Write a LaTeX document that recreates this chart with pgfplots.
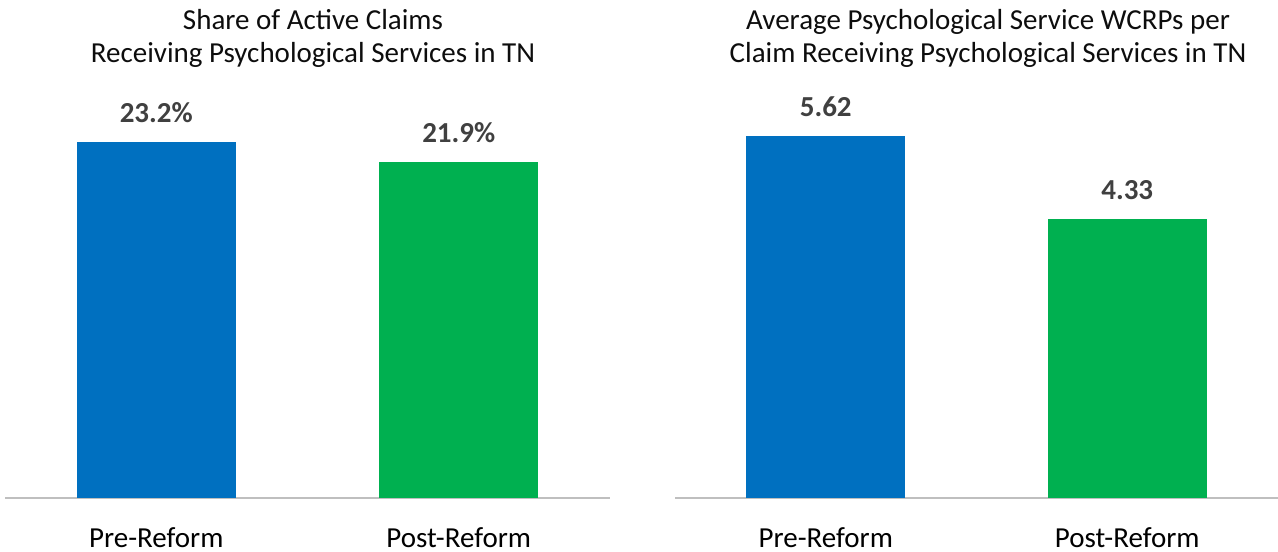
\documentclass[border=0pt]{standalone}
\usepackage{fontspec}
\setmainfont{Carlito}
\usepackage{pgfplots}
\pgfplotsset{compat=1.18}
\definecolor{barblue}{HTML}{0070C0}
\definecolor{bargreen}{HTML}{00B050}
\definecolor{axgray}{HTML}{BFBFBF}
\definecolor{valgray}{HTML}{404040}
\definecolor{titlecol}{HTML}{0D0D0D}
\begin{document}
\begin{tikzpicture}
\path[use as bounding box] (0bp,0bp) rectangle (1278bp,552bp);
\pgfplotsset{
  panel/.style={
    scale only axis, width=605bp, height=460bp,
    ymin=0, xmin=-0.5, xmax=1.5,
    ybar, bar width=159bp,
    axis x line=bottom, axis y line=none,
    x axis line style={-, draw=axgray, line width=2.8bp},
    xtick={0,1}, xticklabels={Pre-Reform,Post-Reform},
    major tick length=0pt, xtick style={draw=none},
    ytick=\empty,
    xticklabel style={font=\fontsize{29bp}{34bp}\selectfont, text=black, anchor=base, yshift=-49bp},
    nodes near coords style={font=\bfseries\fontsize{29bp}{34bp}\selectfont, text=valgray, anchor=base, yshift=19.5bp},
    clip=false,
  }
}
% Left panel
\begin{axis}[panel, at={(5bp,54bp)}, anchor=south west, ymax=30,
  nodes near coords={\pgfmathprintnumber[fixed,fixed zerofill,precision=1,assume math mode=true]{\pgfplotspointmeta}\%}]
\addplot[fill=barblue, draw=none, bar shift=0pt] coordinates {(0,23.2)};
\addplot[fill=bargreen, draw=none, bar shift=0pt] coordinates {(1,21.9)};
\end{axis}
% Right panel
\begin{axis}[panel, at={(675bp,54bp)}, anchor=south west, width=603bp, ymax=7.143,
  nodes near coords={\pgfmathprintnumber[fixed,fixed zerofill,precision=2,assume math mode=true]{\pgfplotspointmeta}}]
\addplot[fill=barblue, draw=none, bar shift=0pt] coordinates {(0,5.62)};
\addplot[fill=bargreen, draw=none, bar shift=0pt] coordinates {(1,4.33)};
\end{axis}
\begin{scope}[every node/.style={font=\fontsize{29bp}{34bp}\selectfont, text=titlecol, anchor=base, inner sep=0pt}]
\node at (313bp,522.7bp) {Share of Active Claims};
\node at (313bp,489.3bp) {Receiving Psychological Services in TN};
\node at (988bp,522.7bp) {Average Psychological Service WCRPs per};
\node at (988bp,489.3bp) {Claim Receiving Psychological Services in TN};
\end{scope}
\end{tikzpicture}
\end{document}
